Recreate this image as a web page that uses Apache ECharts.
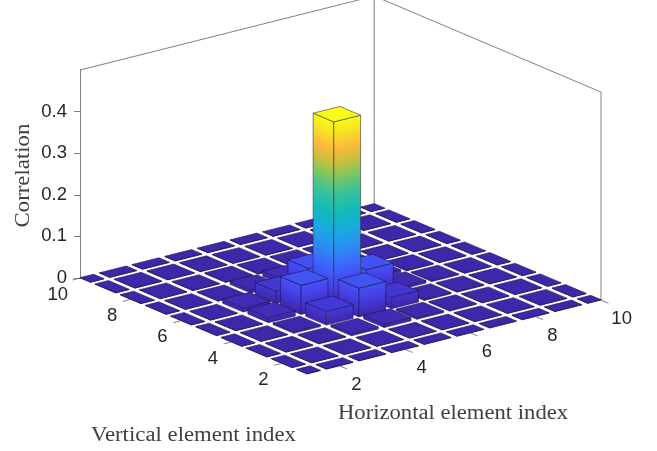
<!DOCTYPE html>
<html><head><meta charset="utf-8">
<script src="https://cdn.jsdelivr.net/npm/echarts@6/dist/echarts.min.js"></script>
<style>html,body{margin:0;padding:0;background:#fff;overflow:hidden}#c{width:657px;height:451px}</style>
</head><body><div id="c"></div>
<script>
// z tick values and axis ticks
const zTicks = [0, 0.1, 0.2, 0.3, 0.4];
const indexTicks = [2, 4, 6, 8, 10];
const zTitle = 'Correlation';
const uTitle = 'Horizontal element index';
const vTitle = 'Vertical element index';
// correlation per cell: rows = vertical index 1..10, columns = horizontal index 1..10
const correlation = [
 [.001,.001,.001,.001,.001,.001,.001,.001,.001,.001],
 [.001,.001,.001,.001,.001,.001,.001,.001,.001,.001],
 [.001,.001,.002,.005,.008,.004,.002,.001,.001,.001],
 [.001,.001,.004,.033,.069,.027,.003,.002,.001,.001],
 [.001,.001,.012,.070,.443,.068,.006,.002,.001,.001],
 [.001,.001,.010,.030,.065,.050,.006,.002,.001,.001],
 [.001,.001,.002,.007,.012,.007,.002,.001,.001,.001],
 [.001,.001,.001,.002,.002,.002,.001,.001,.001,.001],
 [.001,.001,.001,.001,.001,.001,.001,.001,.001,.001],
 [.001,.001,.001,.001,.001,.001,.001,.001,.001,.001]
];
const parulaStops = [
 [0,'#3e26a8'],[.1,'#4640e8'],[.2,'#3f62fc'],[.3,'#2c8cf2'],[.4,'#17aae0'],[.5,'#14bab8'],
 [.6,'#35c39a'],[.7,'#7fc760'],[.76,'#c0c040'],[.85,'#fbb93d'],[.92,'#f8dc28'],[1,'#f9fb15']];

// layout of the oblique view
const zMax = 0.5, colourMax = 0.443, barHalf = 0.41, indexMin = 1, indexMax = 10;
const frontX = 307, uStep = [32.67, -8.22], vStep = [-25.2, -10.67];
const tickLen = 8;

function parula(t){
  t = Math.max(0, Math.min(1, t));
  let i = 0;
  while (i < parulaStops.length - 2 && t > parulaStops[i + 1][0]) i++;
  const f = (t - parulaStops[i][0]) / (parulaStops[i + 1][0] - parulaStops[i][0]);
  const a = echarts.color.parse(parulaStops[i][1]), b = echarts.color.parse(parulaStops[i + 1][1]);
  return 'rgb(' + [0,1,2].map(k => Math.round(a[k] + (b[k] - a[k]) * f)).join(',') + ')';
}
function projector(api){
  // the z axis stands on the corner u=1, v=10
  return (u, v, z) => {
    const y0 = api.coord([0, z])[1];
    return [frontX + (u - 1) * uStep[0] + (v - 1) * vStep[0],
            y0 + (u - 1) * uStep[1] + (v - 10) * vStep[1]];
  };
}
function faceGradient(a, b, base, top, z){
  const ex = b[0] - a[0], ey = b[1] - a[1], L = Math.hypot(ex, ey);
  let nx = -ey / L, ny = ex / L;
  if (ny > 0) { nx = -nx; ny = -ny; }
  const h = base[1] - top[1], len = h * Math.abs(ny);
  const stops = [], n = 32;
  for (let i = 0; i <= n; i++) stops.push({offset: i / n, color: parula((z * i / n) / colourMax)});
  return new echarts.graphic.LinearGradient(base[0], base[1], base[0] + nx * len, base[1] + ny * len, stops, true);
}

const barData = [];
correlation.forEach((row, r) => row.forEach((z, c) => barData.push([0, z, c + 1, r + 1])));
barData.sort((p, q) => (q[2] + q[3]) - (p[2] + p[3]));

function renderBar(params, api){
  const z = api.value(1), u = api.value(2), v = api.value(3);
  const P = projector(api);
  const u0 = Math.max(indexMin, u - barHalf), u1 = Math.min(indexMax, u + barHalf);
  const v0 = Math.max(indexMin, v - barHalf), v1 = Math.min(indexMax, v + barHalf);
  const line = {stroke: z > 0.1 ? 'rgba(50,50,60,0.85)' : 'rgba(28,18,75,0.8)', lineWidth: 0.7};
  const A = P(u0, v0, 0), B = P(u1, v0, 0), C = P(u0, v1, 0);
  const At = P(u0, v0, z), Bt = P(u1, v0, z), Ct = P(u0, v1, z), Dt = P(u1, v1, z);
  const topCol = parula(z / colourMax);
  return {type: 'group', children: [
    {type: 'polygon', shape: {points: [C, A, At, Ct]}, style: Object.assign({fill: faceGradient(A, C, A, At, z)}, line)},
    {type: 'polygon', shape: {points: [A, B, Bt, At]}, style: Object.assign({fill: faceGradient(A, B, A, At, z)}, line)},
    {type: 'polygon', shape: {points: [At, Bt, Dt, Ct]}, style: Object.assign({fill: topCol}, line)}
  ]};
}
function renderWalls(params, api){
  const P = projector(api);
  const s = {stroke: '#4a4a4a', lineWidth: 0.7};
  const seg = (a, b) => ({type: 'line', shape: {x1: a[0], y1: a[1], x2: b[0], y2: b[1]}, style: s});
  const L = P(indexMin, indexMax, zMax), K = P(indexMax, indexMax, zMax), R = P(indexMax, indexMin, zMax);
  return {type: 'group', children: [
    seg(L, K), seg(K, R), seg(P(indexMax, indexMax, 0), K), seg(P(indexMax, indexMin, 0), R)
  ]};
}
function renderTicks(params, api){
  const axis = api.value(1), t = api.value(2);
  const P = projector(api);
  const isU = axis === 0;
  const p = isU ? P(t, indexMin, 0) : P(indexMin, t, 0);
  const d = isU ? [-vStep[0], -vStep[1]] : [-uStep[0], -uStep[1]];
  const L = Math.hypot(d[0], d[1]);
  const q = [p[0] + d[0] / L * tickLen, p[1] + d[1] / L * tickLen];
  const wide = t >= 10 ? 4 : 0;
  const lx = isU ? p[0] + 16.6 + wide : p[0] - 18.5 - wide;
  const ly = isU ? p[1] + 19 : p[1] + 16.5;
  return {type: 'group', children: [
    {type: 'line', shape: {x1: p[0], y1: p[1], x2: q[0], y2: q[1]}, style: {stroke: '#4a4a4a', lineWidth: 0.7}},
    {type: 'text', x: lx, y: ly, style: {text: String(t), align: 'center', verticalAlign: 'middle',
      fontFamily: 'Liberation Sans', fontSize: 18.5, fill: '#262626'}}
  ]};
}
const tickData = [];
indexTicks.forEach(t => { tickData.push([0, 0, t]); tickData.push([0, 1, t]); });

const titleFont = {fontFamily: 'Liberation Serif', fontSize: 20, fill: '#404040', verticalAlign: 'middle'};
const chart = echarts.init(document.getElementById('c'), null, {renderer: 'canvas'});
chart.setOption({
  animation: false,
  backgroundColor: '#fff',
  grid: {left: 80, right: 56, top: 70, bottom: 173, containLabel: false},
  xAxis: {type: 'value', min: 0, max: 1, show: false},
  yAxis: {type: 'value', min: 0, max: zMax, interval: 0.1,
    axisLine: {show: true, onZero: false, lineStyle: {color: '#4a4a4a', width: 0.7}},
    axisTick: {show: true, length: 6, customValues: zTicks, lineStyle: {color: '#4a4a4a', width: 0.7}},
    axisLabel: {customValues: zTicks, margin: 13, fontFamily: 'Liberation Sans', fontSize: 18.5, color: '#262626',
      formatter: v => String(v)},
    splitLine: {show: false}},
  graphic: [
    {type: 'text', x: 338, y: 413.5, scaleX: 1.132, style: Object.assign({text: uTitle, align: 'left'}, titleFont)},
    {type: 'text', x: 91, y: 436, scaleX: 1.139, style: Object.assign({text: vTitle, align: 'left'}, titleFont)},
    {type: 'text', x: 24, y: 175.5, rotation: Math.PI / 2, scaleX: 1.14, style: Object.assign({text: zTitle, align: 'center'}, titleFont)}
  ],
  series: [
    {type: 'custom', name: 'walls', coordinateSystem: 'cartesian2d', clip: false, silent: true, data: [[0, 0]], renderItem: renderWalls, z: 1},
    {type: 'custom', name: 'Correlation', coordinateSystem: 'cartesian2d', clip: false, silent: true, data: barData,
      encode: {x: 0, y: 1}, renderItem: renderBar, z: 2},
    {type: 'custom', name: 'ticks', coordinateSystem: 'cartesian2d', clip: false, silent: true, data: tickData, renderItem: renderTicks, z: 3}
  ]
});
</script></body></html>
